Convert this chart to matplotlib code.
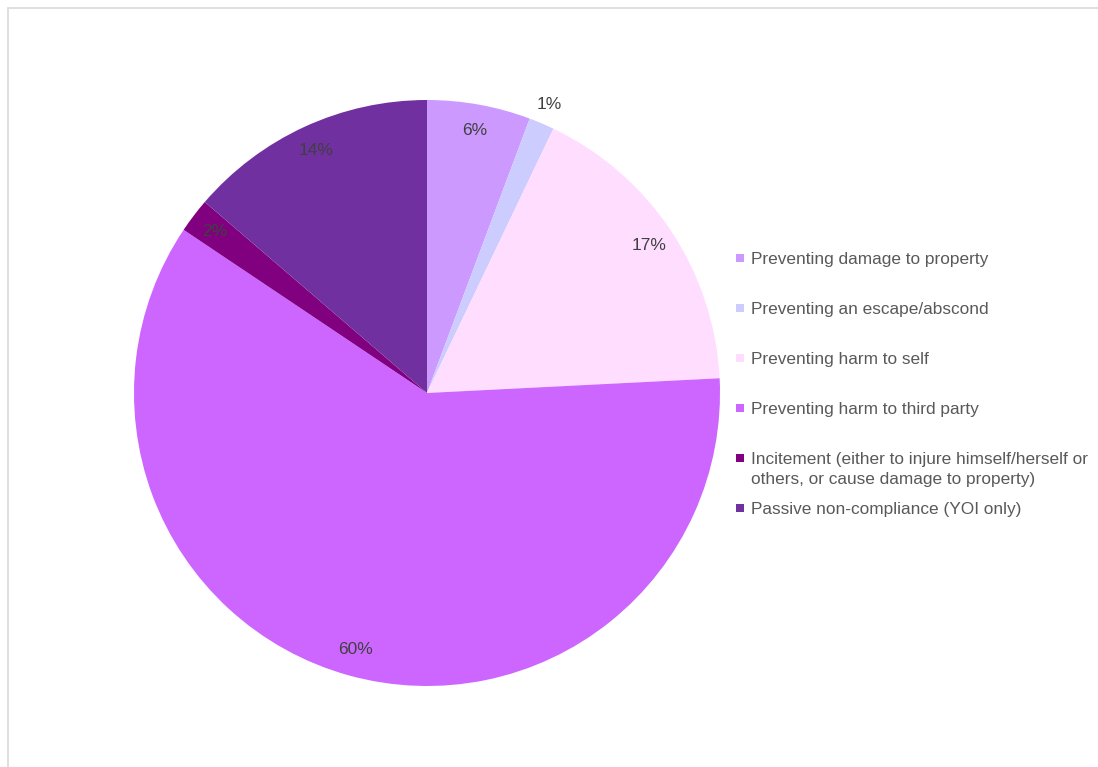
import matplotlib.pyplot as plt
import numpy as np
from matplotlib.patches import Rectangle

plt.rcParams["font.family"] = ["Liberation Sans", "DejaVu Sans"]

# share of incidents by reason (percent)
reasons = [
    "Preventing damage to property",
    "Preventing an escape/abscond",
    "Preventing harm to self",
    "Preventing harm to third party",
    "Incitement (either to injure himself/herself or\nothers, or cause damage to property)",
    "Passive non-compliance (YOI only)",
]
shares = [5.7, 1.4, 17.1, 60.2, 1.9, 13.7]
colors = ["#CC99FF", "#CCCCFF", "#FFDDFF", "#CC66FF", "#800080", "#7030A0"]

W, H = 1098, 767
fig = plt.figure(figsize=(W / 100, H / 100), dpi=100)

# light chart-area border (runs off the right and bottom edges)
fig.patches.append(Rectangle((8 / W, -0.01), 1.02, 1 - 8 / H + 0.01,
                             transform=fig.transFigure, fill=False,
                             edgecolor="#D9D9D9", linewidth=1.2))

cx, cy, r = 427, 393, 293
ax = fig.add_axes([(cx - r) / W, (H - cy - r) / H, 2 * r / W, 2 * r / H])
wedges, _ = ax.pie(shares, colors=colors, startangle=90, counterclock=False,
                   radius=1.0, wedgeprops=dict(linewidth=0))
ax.set_xlim(-1, 1)
ax.set_ylim(-1, 1)
ax.set_aspect("equal")
ax.axis("off")

total = sum(shares)
for w, v in zip(wedges, shares):
    mid = np.deg2rad((w.theta1 + w.theta2) / 2)
    pct = 100 * v / total
    dist = 1.07 if pct < 1.5 else 0.91
    ax.text(dist * np.cos(mid), dist * np.sin(mid), f"{pct:.0f}%",
            ha="center", va="center", fontsize=12.5, color="#404040")

# legend entries
y0, step = 258, 50
for i, (name, c) in enumerate(zip(reasons, colors)):
    y = y0 + i * step
    fig.patches.append(Rectangle((736 / W, 1 - (y + 4) / H), 8 / W, 8 / H,
                                 transform=fig.transFigure, facecolor=c,
                                 edgecolor="none"))
    fig.text(751 / W, 1 - (y - 6) / H, name, ha="left", va="top",
             fontsize=12.4, color="#595959", linespacing=1.4)

fig.savefig("out.png", dpi=100)
